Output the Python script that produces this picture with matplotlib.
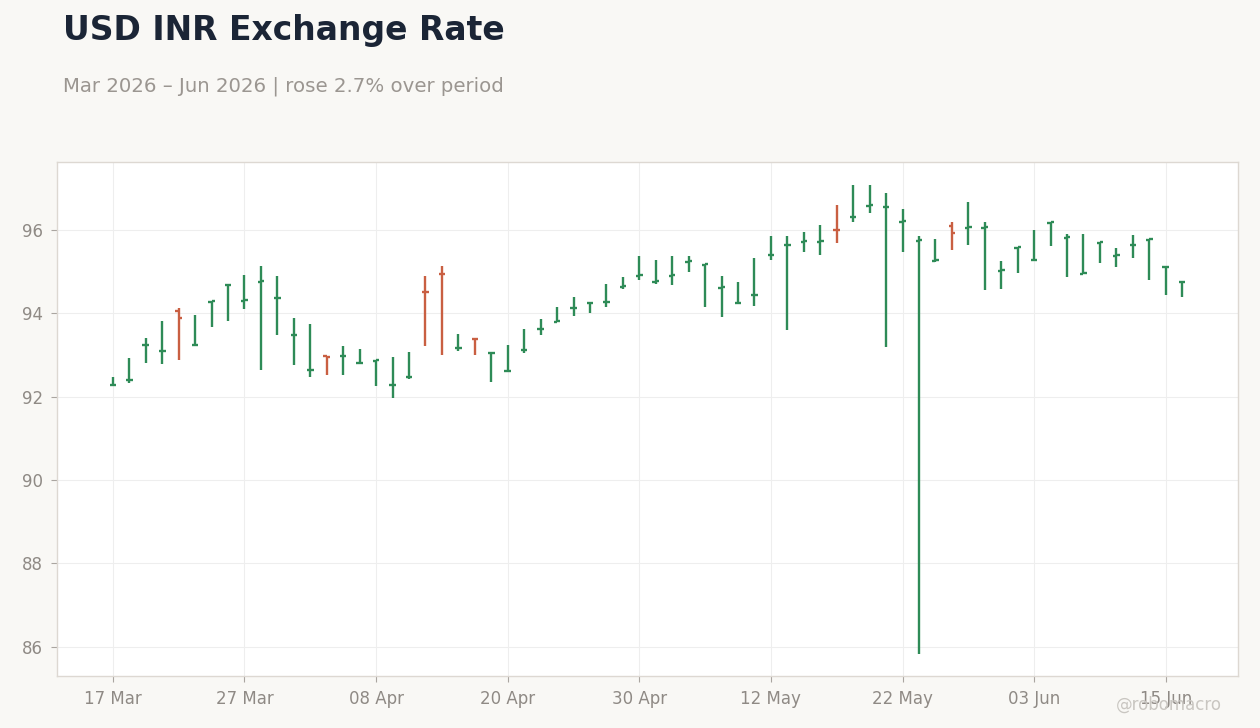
import numpy as np
import pandas as pd
import matplotlib
matplotlib.use('Agg')
import matplotlib.pyplot as plt

### Data (USD/INR daily OHLC)
dates = pd.bdate_range('2026-03-17', periods=66)

opens = [92.27, 92.40, 93.24, 93.09, 94.06, 93.23, 94.28, 94.68, 94.30, 94.76,
         94.36, 93.47, 92.64, 92.98, 92.97, 92.81, 92.86, 92.28, 92.47, 94.51,
         94.95, 93.16, 93.39, 93.05, 92.61, 93.12, 93.62, 93.80, 94.12, 94.24,
         94.26, 94.64, 94.90, 94.76, 94.90, 95.24, 95.17, 94.61, 94.24, 94.43,
         95.40, 95.64, 95.72, 95.72, 96.01, 96.30, 96.58, 96.54, 96.20, 95.74,
         95.26, 96.09, 96.05, 96.05, 95.02, 95.57, 95.28, 96.17, 95.81, 94.95,
         95.69, 95.38, 95.64, 95.77, 95.11, 94.75]
highs = [92.48, 92.93, 93.40, 93.81, 94.12, 93.95, 94.30, 94.70, 94.93, 95.14,
         94.90, 93.88, 93.74, 92.98, 93.21, 93.14, 92.87, 92.95, 93.07, 94.90,
         95.14, 93.50, 93.39, 93.06, 93.24, 93.62, 93.86, 94.14, 94.38, 94.25,
         94.71, 94.86, 95.38, 95.29, 95.38, 95.38, 95.18, 94.90, 94.76, 95.33,
         95.86, 95.86, 95.96, 96.13, 96.61, 97.07, 97.07, 96.88, 96.51, 95.86,
         95.79, 96.20, 96.68, 96.19, 95.26, 95.58, 96.00, 96.18, 95.90, 95.90,
         95.70, 95.57, 95.89, 95.78, 95.12, 94.76]
lows = [92.27, 92.34, 92.81, 92.79, 92.87, 93.23, 93.67, 93.82, 94.10, 92.64,
        93.48, 92.76, 92.48, 92.53, 92.51, 92.78, 92.25, 91.98, 92.42, 93.21,
        93.00, 93.10, 93.00, 92.36, 92.61, 93.05, 93.48, 93.80, 93.94, 94.00,
        94.14, 94.58, 94.81, 94.70, 94.67, 94.98, 94.15, 93.90, 94.24, 94.18,
        95.29, 93.61, 95.46, 95.41, 95.68, 96.18, 96.40, 93.20, 95.46, 85.84,
        95.22, 95.51, 95.65, 94.55, 94.59, 94.96, 95.28, 95.61, 94.88, 94.94,
        95.20, 95.10, 95.32, 94.81, 94.43, 94.40]
closes = [92.28, 92.41, 93.25, 93.10, 93.88, 93.24, 94.29, 94.69, 94.31, 94.77,
          94.37, 93.48, 92.65, 92.96, 92.98, 92.82, 92.87, 92.29, 92.48, 94.50,
          94.94, 93.17, 93.38, 93.06, 92.62, 93.13, 93.63, 93.81, 94.13, 94.25,
          94.27, 94.65, 94.91, 94.77, 94.91, 95.25, 95.18, 94.62, 94.25, 94.44,
          95.41, 95.65, 95.73, 95.73, 96.00, 96.31, 96.59, 96.55, 96.21, 95.75,
          95.27, 95.92, 96.06, 96.06, 95.03, 95.58, 95.29, 96.18, 95.82, 94.96,
          95.70, 95.39, 95.65, 95.78, 95.12, 94.76]

yticks = [86, 88, 90, 92, 94, 96]

### Style
BG = '#f9f8f5'
UP = '#2e8b57'
DOWN = '#c95f42'
TXT = '#8f8a85'

o = np.array(opens); h = np.array(highs); l = np.array(lows); c = np.array(closes)
x = np.arange(len(dates))
colors = np.where(c >= o, UP, DOWN)

fig = plt.figure(figsize=(12.6, 7.28), dpi=100, facecolor=BG)
ax = fig.add_axes([0.0452, 0.0714, 0.9373, 0.7061])
ax.set_facecolor('white')

tick = 0.2
ax.vlines(x, l, h, colors=colors, linewidth=1.7, zorder=3)
ax.hlines(o, x - tick, x, colors=colors, linewidth=1.7, zorder=3)
ax.hlines(c, x, x + tick, colors=colors, linewidth=1.7, zorder=3)

ax.set_xlim(-3.4, 68.39)
ax.set_ylim(85.3, 97.63)

ax.set_yticks(yticks)
ax.set_yticklabels([str(v) for v in yticks])
xt = x[::8]
ax.set_xticks(xt)
ax.set_xticklabels([dates[i].strftime('%d %b') for i in xt])

ax.grid(True, color='#eeeeee', linewidth=0.8, zorder=0)
ax.set_axisbelow(True)
for s in ax.spines.values():
    s.set_color('#ddd8d2')
    s.set_linewidth(1.0)
ax.tick_params(axis='both', colors='#aaa5a0', labelcolor=TXT, labelsize=12,
               length=4, width=0.8, pad=6)

fig.text(0.05, 0.958, 'USD INR Exchange Rate', fontsize=23.8, fontweight='bold',
         color='#1b2536', ha='left', va='center')
pct = (closes[-1] / closes[0] - 1) * 100
fig.text(0.05, 0.882, f'Mar 2026 \u2013 Jun 2026 | rose {pct:.1f}% over period',
         fontsize=14.25, color='#9b9691', ha='left', va='center')
fig.text(0.97, 0.032, '@robomacro', fontsize=12, color='#c9c6c1',
         ha='right', va='center')

fig.savefig('out.png', dpi=100, facecolor=BG)
